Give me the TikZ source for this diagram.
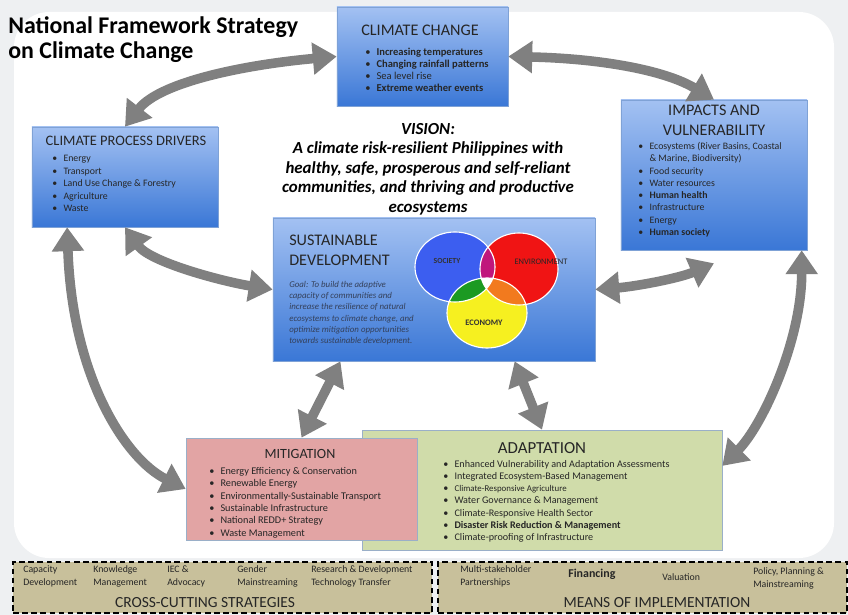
\documentclass[tikz,border=0pt]{standalone}
\usepackage{fontspec}
\setmainfont{Carlito}
\usepackage{tikz}
\usetikzlibrary{arrows.meta}
\usetikzlibrary{positioning}
\usetikzlibrary{calc}

\definecolor{bluetop}{HTML}{A3C1F2}
\definecolor{bluebot}{HTML}{3A77D6}
\definecolor{blueline}{HTML}{7FA2D6}
\definecolor{mitpink}{HTML}{E2A4A4}
\definecolor{adpgreen}{HTML}{D0DCAA}
\definecolor{boxedge}{HTML}{9AAFC8}
\definecolor{khaki}{HTML}{C8C09B}
\definecolor{linkgray}{HTML}{808080}
\definecolor{pagegray}{HTML}{EEF0F2}
\definecolor{inkgray}{HTML}{262626}
\definecolor{goalink}{HTML}{34405A}
\definecolor{socblue}{HTML}{3C5EF0}
\definecolor{envred}{HTML}{F01414}
\definecolor{ecoyellow}{HTML}{F6F020}
\definecolor{segmagenta}{HTML}{C0177C}
\definecolor{seggreen}{HTML}{1C9A22}
\definecolor{segorange}{HTML}{F27A1E}

\tikzstyle{bluebox} = [rectangle, draw=blueline, top color=bluetop, bottom color=bluebot]
\tikzstyle{mitbox} = [rectangle, draw=boxedge, fill=mitpink]
\tikzstyle{adpbox} = [rectangle, draw=boxedge, fill=adpgreen]
\tikzstyle{dashbox} = [rectangle, draw=black, fill=khaki, line width=1.3pt, dash pattern=on 4pt off 2.5pt]
\tikzstyle{boxtitle} = [inner sep=0pt, text=inkgray, align=center]
\tikzstyle{itemlist} = [inner sep=0pt, anchor=north west, align=left, text=inkgray]
\tikzstyle{smallitem} = [inner sep=0pt, anchor=north west, align=left, text=inkgray, font=\fontsize{7}{9.25}\selectfont]
\tikzstyle{link} = [draw=linkgray, line width=6.8pt, {Triangle[width=22pt,length=17pt]}-{Triangle[width=22pt,length=17pt]}]

\newcommand{\bul}{\makebox[8pt][l]{\textbullet}}
\newcommand{\vsoc}{(455,267) ellipse [x radius=40, y radius=35]}
\newcommand{\venv}{(519,269) ellipse [x radius=39, y radius=36]}
\newcommand{\veco}{(487,313) ellipse [x radius=40, y radius=35]}

\begin{document}
\begin{tikzpicture}[x=0.025cm, y=-0.025cm]

    \path [use as bounding box, fill=pagegray] (0,0) rectangle (848,615);
    \fill [white, rounded corners=25pt] (14,12) rectangle (834,558);

    \node (title) [inner sep=0pt, anchor=north west, align=left, text=black, font=\fontsize{17}{17.8}\selectfont\bfseries] at (8,16) {National Framework Strategy\\on Climate Change};

    \node (cc) [bluebox, minimum width=4.275cm, minimum height=2.475cm] at (422.5,56.5) {};
    \node (cctitle) [boxtitle, font=\fontsize{11.5}{13}\selectfont] at (420,30) {CLIMATE CHANGE};
    \node (cclist) [itemlist, font=\fontsize{7.5}{8.54}\selectfont] at (365,48) {\bul\textbf{Increasing temperatures}\\ \bul\textbf{Changing rainfall patterns}\\ \bul Sea level rise\\ \bul\textbf{Extreme weather events}};

    \node (cpd) [bluebox, minimum width=4.65cm, minimum height=2.5cm] at (125,177) {};
    \node (cpdtitle) [boxtitle, font=\fontsize{10.3}{12}\selectfont] at (126,141) {CLIMATE PROCESS DRIVERS};
    \node (cpdlist) [itemlist, font=\fontsize{7}{8.9}\selectfont] at (52,155) {\bul Energy\\ \bul Transport\\ \bul Land Use Change \& Forestry\\ \bul Agriculture\\ \bul Waste};

    \node (imp) [bluebox, minimum width=4.65cm, minimum height=3.75cm] at (714,175) {};
    \node (imptitle) [boxtitle, font=\fontsize{11.5}{14.2}\selectfont] at (714,120) {IMPACTS AND\\VULNERABILITY};
    \node (implist) [itemlist, font=\fontsize{7}{8.75}\selectfont] at (638,142) {\bul Ecosystems (River Basins, Coastal\\ \hspace*{8pt}\& Marine, Biodiversity)\\ \bul Food security\\ \bul Water resources\\ \bul\textbf{Human health}\\ \bul Infrastructure\\ \bul Energy\\ \bul\textbf{Human society}};

    \node (vision) [inner sep=0pt, anchor=north, align=center, text=black, font=\fontsize{12}{13.9}\selectfont\bfseries\itshape] at (428,123) {VISION:\\A climate risk-resilient Philippines with\\healthy, safe, prosperous and self-reliant\\communities, and thriving and productive\\ecosystems};

    \node (sd) [bluebox, minimum width=8.05cm, minimum height=3.575cm] at (434,289.5) {};
    \node (sdtitle) [itemlist, font=\fontsize{11.5}{14.2}\selectfont] at (289,235) {SUSTAINABLE\\DEVELOPMENT};
    \node (goal) [itemlist, text=goalink, font=\fontsize{6.3}{7.97}\selectfont\itshape] at (289,281) {Goal: To build the adaptive\\capacity of communities and\\increase the resilience of natural\\ecosystems to climate change, and\\optimize mitigation opportunities\\towards sustainable development.};

    \fill [socblue] \vsoc;
    \fill [envred] \venv;
    \fill [ecoyellow] \veco;
    \begin{scope}
        \clip \vsoc;
        \fill [segmagenta] \venv;
        \fill [seggreen] \veco;
    \end{scope}
    \begin{scope}
        \clip \venv;
        \fill [segorange] \veco;
        \clip \vsoc;
        \fill [white] \veco;
    \end{scope}
    \draw [white, line width=0.8pt] \vsoc \venv \veco;
    \node (society) [inner sep=0pt, font=\fontsize{5.5}{6}\selectfont\bfseries, text=black!80] at (447,261) {SOCIETY};
    \node (environment) [inner sep=0pt, font=\fontsize{6}{7}\selectfont, text=black!85] at (541,262) {ENVIRONMENT};
    \node (economy) [inner sep=0pt, font=\fontsize{6}{7}\selectfont\bfseries, text=black!80] at (484,323) {ECONOMY};

    \node (adp) [adpbox, minimum width=9cm, minimum height=3cm] at (542,490) {};
    \node (adptitle) [boxtitle, font=\fontsize{12}{14}\selectfont] at (542,448) {ADAPTATION};
    \node (adplist) [itemlist, font=\fontsize{7.2}{8.68}\selectfont] at (443,460) {\bul Enhanced Vulnerability and Adaptation Assessments\\ \bul Integrated Ecosystem-Based Management\\ \bul{\fontsize{6.3}{8.68}\selectfont Climate-Responsive Agriculture}\\ \bul Water Governance \& Management\\ \bul Climate-Responsive Health Sector\\ \bul\textbf{Disaster Risk Reduction \& Management}\\ \bul Climate-proofing of Infrastructure};

    \node (mit) [mitbox, minimum width=5.775cm, minimum height=2.55cm] at (301.5,489) {};
    \node (mittitle) [boxtitle, font=\fontsize{10}{12}\selectfont] at (300,454) {MITIGATION};
    \node (mitlist) [itemlist, font=\fontsize{7.3}{8.8}\selectfont] at (209,467) {\bul Energy Efficiency \& Conservation\\ \bul Renewable Energy\\ \bul Environmentally-Sustainable Transport\\ \bul Sustainable Infrastructure\\ \bul National REDD+ Strategy\\ \bul Waste Management};

    \node (ccs) [dashbox, minimum width=10.475cm, minimum height=1.275cm] at (222.5,587.5) {};
    \node (ccs1) [smallitem] at (23,565) {Capacity\\Development};
    \node (ccs2) [smallitem] at (93,565) {Knowledge\\Management};
    \node (ccs3) [smallitem] at (167,565) {IEC \&\\Advocacy};
    \node (ccs4) [smallitem] at (237,565) {Gender\\Mainstreaming};
    \node (ccs5) [smallitem] at (311,565) {Research \& Development\\Technology Transfer};
    \node (ccslabel) [boxtitle, font=\fontsize{11}{13}\selectfont] at (205,603) {CROSS-CUTTING STRATEGIES};

    \node (moi) [dashbox, minimum width=10.225cm, minimum height=1.275cm] at (642.5,587.5) {};
    \node (moi1) [smallitem] at (460,565) {Multi-stakeholder\\Partnerships};
    \node (moi2) [smallitem, font=\fontsize{8.5}{10}\selectfont\bfseries] at (568,569) {Financing};
    \node (moi3) [smallitem] at (662,573) {Valuation};
    \node (moi4) [smallitem] at (753,567) {Policy, Planning \&\\Mainstreaming};
    \node (moilabel) [boxtitle, font=\fontsize{11}{13}\selectfont] at (657,603) {MEANS OF IMPLEMENTATION};

    \coordinate (cpdL) at ($(cpd.south west)!0.19!(cpd.south east)$);
    \coordinate (impL) at ($(imp.south)+(0,13)$);
    \coordinate (impR) at ($(imp.south west)!0.97!(imp.south east)$);
    \coordinate (adpR) at ($(adp.north east)!0.3!(adp.south east)$);
    \coordinate (sdA) at ($(sd.south west)!0.21!(sd.south east)$);
    \coordinate (sdB) at ($(sd.south west)!0.75!(sd.south east)$);

    \draw [link] (cc.west) .. controls +(-90,8) and +(35,-45) .. (cpd.north);
    \draw [link] (cc.east) .. controls +(90,2) and +(-50,-30) .. (imp.north);
    \draw [link] (cpd.south) .. controls +(25,35) and +(-50,-8) .. (sd.west);
    \draw [link] (cpdL) .. controls +(5,150) and +(-60,-30) .. (mit.west);
    \draw [link] (sd.east) .. controls +(40,-3) and +(-35,15) .. (impL);
    \draw [link] (impR) .. controls +(0,90) and +(40,-40) .. (adpR);
    \draw [link] (sdA) -- (mit.north);
    \draw [link] (sdB) -- (adp.north);

\end{tikzpicture}
\end{document}
